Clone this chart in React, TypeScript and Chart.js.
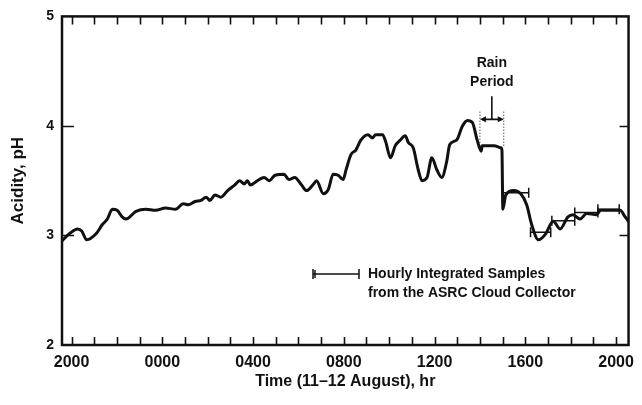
import React, { useEffect, useRef } from "react";
import { Chart, registerables } from "chart.js";

Chart.register(...registerables);

// ---- data ----
const hours = [
  -0.42, -0.07, 0.27, 0.45, 0.67, 1.1, 1.36, 1.58, 1.8, 2.01,
  2.23, 2.4, 2.84, 3.27, 3.71, 4.14, 4.58, 4.93, 5.14, 5.45,
  5.71, 5.93, 6.1, 6.32, 6.58, 6.88, 7.19, 7.41, 7.62, 7.75,
  7.88, 8.19, 8.49, 8.71, 8.97, 9.36, 9.58, 9.84, 10.14, 10.36,
  10.67, 10.8, 11.1, 11.32, 11.53, 11.75, 11.97, 12.1, 12.32, 12.53,
  12.75, 13.06, 13.27, 13.4, 13.71, 13.84, 14.06, 14.27, 14.49, 14.71,
  14.84, 15.06, 15.28, 15.45, 15.67, 15.88, 16.1, 16.32, 16.53, 16.67,
  16.97, 17.23, 17.45, 17.67, 17.88, 18.06, 18.1, 18.32, 18.62, 18.93,
  18.97, 19.01, 19.14, 19.49, 19.8, 20.06, 20.28, 20.58, 20.88, 21.23,
  21.53, 21.88, 22.1, 22.41, 22.71, 23.14, 23.32, 23.88, 24.18, 24.4,
  24.55,
];
const acidity = [
  2.95, 3.02, 3.06, 3.04, 2.96, 3.02, 3.1, 3.15, 3.24, 3.23,
  3.17, 3.15, 3.22, 3.24, 3.23, 3.25, 3.24, 3.29, 3.28, 3.31,
  3.32, 3.35, 3.32, 3.37, 3.35, 3.41, 3.46, 3.5, 3.47, 3.5,
  3.46, 3.5, 3.53, 3.5, 3.55, 3.56, 3.51, 3.53, 3.46, 3.41,
  3.47, 3.5, 3.38, 3.42, 3.56, 3.55, 3.51, 3.6, 3.74, 3.78,
  3.87, 3.92, 3.89, 3.92, 3.92, 3.86, 3.71, 3.82, 3.87, 3.91,
  3.85, 3.8, 3.6, 3.5, 3.53, 3.71, 3.6, 3.53, 3.67, 3.83,
  3.87, 4.0, 4.05, 4.03, 3.87, 3.77, 3.82, 3.82, 3.82, 3.8,
  3.78, 3.24, 3.37, 3.41, 3.38, 3.28, 3.1, 2.96, 3.01, 3.13,
  3.06, 3.17, 3.19, 3.15, 3.2, 3.19, 3.23, 3.23, 3.23, 3.17,
  3.13,
];
const sampleStart = [19.02, 20.23, 21.17, 22.18, 23.2];
const sampleEnd = [20.15, 21.12, 22.18, 23.2, 24.14];
const samplePH = [3.39, 3.03, 3.135, 3.21, 3.24];

const xLabelHours = [0, 4, 8, 12, 16, 20, 24];
const xLabelText = ["2000", "0000", "0400", "0800", "1200", "1600", "2000"];
const hourTicks = Array.from({ length: 25 }, (_, i) => i);
const yLabels = [2, 3, 4, 5];
const yInnerTicks = [3, 4];

const rainStart = 18.0;
const rainEnd = 19.05;

const FONT = "'Liberation Sans', Arial, Helvetica, sans-serif";
const INK = "#111";

const overlay = {
  id: "overlay",
  afterDraw(chart: any) {
    const { ctx, chartArea: a, scales } = chart;
    const x = scales.x;
    const y = scales.y;
    ctx.save();
    ctx.strokeStyle = INK;
    ctx.fillStyle = INK;
    ctx.lineCap = "butt";
    // hour ticks (inward) on bottom and top
    ctx.lineWidth = 1.6;
    ctx.beginPath();
    for (const h of hourTicks) {
      const px = Math.round(x.getPixelForValue(h)) + 0.5;
      ctx.moveTo(px, a.bottom);
      ctx.lineTo(px, a.bottom - 8);
      ctx.moveTo(px, a.top);
      ctx.lineTo(px, a.top + 8);
    }
    for (const v of yInnerTicks) {
      const py = Math.round(y.getPixelForValue(v)) + 0.5;
      ctx.moveTo(a.left, py);
      ctx.lineTo(a.left + 12, py);
      ctx.moveTo(a.right, py);
      ctx.lineTo(a.right - 9, py);
    }
    ctx.stroke();
    // frame
    ctx.lineWidth = 2.5;
    ctx.strokeRect(a.left, a.top, a.right - a.left, a.bottom - a.top);

    // rain period annotation
    const rx1 = x.getPixelForValue(rainStart);
    const rx2 = x.getPixelForValue(rainEnd);
    const rmid = (rx1 + rx2) / 2;
    const ay = y.getPixelForValue(4.06);
    ctx.lineWidth = 1;
    ctx.setLineDash([1, 2]);
    ctx.beginPath();
    ctx.moveTo(rx1, y.getPixelForValue(4.13));
    ctx.lineTo(rx1, y.getPixelForValue(3.8));
    ctx.moveTo(rx2, y.getPixelForValue(4.13));
    ctx.lineTo(rx2, y.getPixelForValue(3.8));
    ctx.stroke();
    ctx.setLineDash([]);
    ctx.lineWidth = 1.6;
    ctx.beginPath();
    ctx.moveTo(rx1 + 2, ay);
    ctx.lineTo(rx2 - 2, ay);
    ctx.moveTo(rmid, y.getPixelForValue(4.27));
    ctx.lineTo(rmid, ay);
    ctx.stroke();
    // arrow heads
    ctx.beginPath();
    ctx.moveTo(rx1, ay);
    ctx.lineTo(rx1 + 6, ay - 3);
    ctx.lineTo(rx1 + 6, ay + 3);
    ctx.closePath();
    ctx.moveTo(rx2, ay);
    ctx.lineTo(rx2 - 6, ay - 3);
    ctx.lineTo(rx2 - 6, ay + 3);
    ctx.closePath();
    ctx.fill();
    ctx.font = `bold 14px ${FONT}`;
    ctx.textAlign = "center";
    ctx.textBaseline = "middle";
    ctx.fillText("Rain", rmid, 63);
    ctx.fillText("Period", rmid, 82);

    // legend for hourly samples
    const lx1 = 313;
    const lx2 = 359;
    const ly = 274;
    ctx.lineWidth = 1.5;
    ctx.beginPath();
    ctx.moveTo(lx1, ly);
    ctx.lineTo(lx2, ly);
    ctx.moveTo(lx1, ly - 5);
    ctx.lineTo(lx1, ly + 5);
    ctx.moveTo(lx1 + 2, ly - 4);
    ctx.lineTo(lx1 + 2, ly + 4);
    ctx.moveTo(lx2, ly - 5);
    ctx.lineTo(lx2, ly + 5);
    ctx.stroke();
    ctx.textAlign = "left";
    ctx.font = `bold 14px ${FONT}`;
    ctx.fillText("Hourly Integrated Samples", 368, 274);
    ctx.fillText("from the ASRC Cloud Collector", 368, 293);
    ctx.restore();
  },
};

function buildSamples() {
  const pts: any[] = [];
  for (let i = 0; i < samplePH.length; i++) {
    pts.push({ x: sampleStart[i], y: samplePH[i] });
    pts.push({ x: sampleEnd[i], y: samplePH[i] });
    pts.push({ x: sampleEnd[i] + 0.001, y: null });
  }
  return pts;
}

export default function App() {
  const ref = useRef<HTMLCanvasElement>(null);
  useEffect(() => {
    if (!ref.current) return;
    const chart = new Chart(ref.current, {
      type: "line",
      data: {
        datasets: [
          {
            label: "pH",
            data: hours.map((h, i) => ({ x: h, y: acidity[i] })),
            borderColor: INK,
            borderWidth: 3,
            pointRadius: 0,
            cubicInterpolationMode: "monotone",
            fill: false,
          },
          {
            label: "Hourly Integrated Samples",
            data: buildSamples(),
            borderColor: INK,
            borderWidth: 1.5,
            tension: 0,
            spanGaps: false,
            pointStyle: "line",
            pointRotation: 90,
            pointRadius: 5,
            pointBorderWidth: 1.5,
            pointBorderColor: INK,
            fill: false,
          },
        ],
      },
      options: {
        responsive: false,
        animation: false,
        devicePixelRatio: 1,
        layout: { padding: { top: 12, right: 6, left: 0, bottom: 0 } },
        plugins: { legend: { display: false }, tooltip: { enabled: false } },
        scales: {
          x: {
            type: "linear",
            min: -0.42,
            max: 24.55,
            grid: { display: false, drawTicks: false },
            border: { display: false },
            afterBuildTicks: (s: any) => {
              s.ticks = xLabelHours.map((v) => ({ value: v }));
            },
            afterFit: (s: any) => {
              s.height = 60;
            },
            ticks: {
              autoSkip: false,
              maxRotation: 0,
              padding: 8,
              color: INK,
              font: { family: FONT, size: 16, weight: "bold" },
              callback: (v: any) => xLabelText[xLabelHours.indexOf(Number(v))] ?? "",
            },
            title: {
              display: true,
              text: "Time (11–12 August), hr",
              color: INK,
              font: { family: FONT, size: 16, weight: "bold" },
              padding: { top: 0, bottom: 14 },
            },
          },
          y: {
            type: "linear",
            min: 2,
            max: 5,
            grid: { display: false, drawTicks: false },
            border: { display: false },
            afterBuildTicks: (s: any) => {
              s.ticks = yLabels.map((v) => ({ value: v }));
            },
            afterFit: (s: any) => {
              s.width = 62;
            },
            ticks: {
              padding: 8,
              color: INK,
              font: { family: FONT, size: 14, weight: "bold" },
            },
            title: {
              display: true,
              text: "Acidity, pH",
              color: INK,
              font: { family: FONT, size: 17, weight: "bold" },
              padding: { top: 8, bottom: 0 },
            },
          },
        },
      },
      plugins: [overlay],
    });
    return () => chart.destroy();
  }, []);
  return (
    <div style={{ position: "absolute", left: 0, top: 0, width: 642, height: 405, background: "#fff" }}>
      <canvas ref={ref} width={642} height={405} style={{ display: "block" }} />
    </div>
  );
}
